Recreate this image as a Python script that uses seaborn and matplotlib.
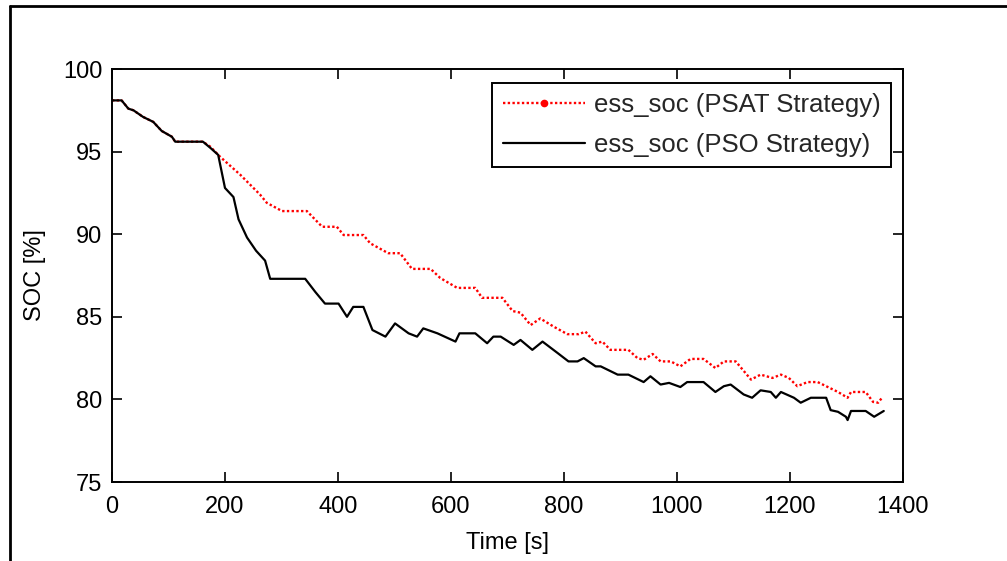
import numpy as np
import pandas as pd
import matplotlib
matplotlib.use("Agg")
import matplotlib.pyplot as plt
from matplotlib.lines import Line2D
import seaborn as sns

# ---- data ----
pso_time = [0, 17, 29, 38, 55, 73, 88, 106, 112, 161,
            175, 188, 200, 215, 224, 239, 255, 271, 280, 342,
            360, 377, 401, 416, 427, 445, 461, 484, 501, 525,
            540, 551, 576, 608, 615, 643, 664, 675, 688, 711,
            723, 744, 762, 789, 808, 824, 835, 856, 865, 895,
            914, 941, 953, 971, 986, 1006, 1018, 1047, 1068, 1083,
            1095, 1118, 1133, 1148, 1166, 1175, 1184, 1207, 1219, 1237,
            1264, 1272, 1285, 1299, 1302, 1308, 1334, 1349, 1366]
pso_soc = [98.1, 98.1, 97.6, 97.5, 97.1, 96.8, 96.25, 95.9, 95.6, 95.6,
           95.2, 94.8, 92.8, 92.25, 90.9, 89.8, 89.0, 88.4, 87.3, 87.3,
           86.5, 85.8, 85.8, 85.0, 85.6, 85.6, 84.2, 83.8, 84.6, 84.0,
           83.8, 84.3, 84.0, 83.5, 84.0, 84.0, 83.4, 83.8, 83.8, 83.3,
           83.6, 83.0, 83.5, 82.8, 82.3, 82.3, 82.5, 82.0, 82.0, 81.5,
           81.5, 81.05, 81.4, 80.9, 81.0, 80.75, 81.05, 81.05, 80.45, 80.8,
           80.9, 80.3, 80.1, 80.55, 80.45, 80.1, 80.45, 80.1, 79.8, 80.1,
           80.1, 79.35, 79.25, 78.95, 78.75, 79.3, 79.3, 78.95, 79.3]

psat_time = [0, 17, 29, 38, 55, 73, 88, 106, 112, 161,
             174, 191, 227, 262, 274, 301, 312, 345, 372, 398,
             410, 445, 457, 489, 510, 531, 564, 581, 611, 643,
             655, 691, 709, 723, 741, 758, 782, 806, 826, 838,
             856, 868, 882, 914, 930, 941, 957, 971, 989, 1006,
             1024, 1047, 1068, 1083, 1104, 1131, 1148, 1169, 1184, 1198,
             1213, 1231, 1249, 1267, 1285, 1302, 1308, 1334, 1347, 1356,
             1364]
psat_soc = [98.1, 98.1, 97.6, 97.5, 97.1, 96.8, 96.25, 95.9, 95.6, 95.6,
            95.3, 94.7, 93.6, 92.4, 91.9, 91.4, 91.4, 91.4, 90.45, 90.45,
            89.95, 89.95, 89.45, 88.85, 88.85, 87.9, 87.9, 87.35, 86.75, 86.75,
            86.15, 86.15, 85.35, 85.25, 84.5, 84.9, 84.4, 83.95, 83.95, 84.1,
            83.4, 83.5, 83.0, 83.0, 82.5, 82.4, 82.75, 82.3, 82.3, 82.0,
            82.45, 82.45, 81.9, 82.3, 82.3, 81.2, 81.5, 81.3, 81.5, 81.3,
            80.8, 81.05, 81.05, 80.75, 80.45, 80.1, 80.45, 80.45, 79.85, 79.8,
            80.15]

labels = ["ess_soc (PSAT Strategy)", "ess_soc (PSO Strategy)"]
x_ticks = [0, 200, 400, 600, 800, 1000, 1200, 1400]
y_ticks = [75, 80, 85, 90, 95, 100]

# ---- style ----
sns.set_style("ticks")
plt.rcParams["font.family"] = ["Liberation Sans", "DejaVu Sans"]

fig = plt.figure(figsize=(10.07, 5.61), dpi=100)
ax = fig.add_axes([0.1112, 0.1408, 0.7855, 0.7362])

df_psat = pd.DataFrame({"t": psat_time, "soc": psat_soc})
df_pso = pd.DataFrame({"t": pso_time, "soc": pso_soc})

sns.lineplot(data=df_psat, x="t", y="soc", ax=ax, color="#ff0000",
             linestyle=(0, (1, 1)), linewidth=1.7, sort=False, estimator=None)
sns.lineplot(data=df_pso, x="t", y="soc", ax=ax, color="black",
             linestyle="-", linewidth=1.6, sort=False, estimator=None)

ax.set_xlim(0, 1400)
ax.set_ylim(75, 100)
ax.set_xticks(x_ticks)
ax.set_yticks(y_ticks)
ax.set_xticklabels([str(v) for v in x_ticks])
ax.set_yticklabels([str(v) for v in y_ticks])
ax.tick_params(direction="in", top=True, right=True, length=7, width=1.2,
               labelsize=17, colors="black", pad=7)
ax.tick_params(axis="x", pad=10)
for s in ax.spines.values():
    s.set_linewidth(1.4)
    s.set_color("black")

ax.set_xlabel("Time [s]", fontsize=17, labelpad=10, color="black")
ax.set_ylabel("SOC [%]", fontsize=17, labelpad=12, color="black")

handles = [
    Line2D([], [], color="#ff0000", linestyle=(0, (1, 1)), linewidth=1.7,
           marker=".", markersize=9),
    Line2D([], [], color="black", linestyle="-", linewidth=1.6),
]
leg = ax.legend(handles, labels, loc="upper right",
                bbox_to_anchor=(0.9848, 0.9661), borderaxespad=0,
                fontsize=18.5, frameon=True, fancybox=False, framealpha=1,
                edgecolor="black", handlelength=3.2, handletextpad=0.35,
                labelspacing=0.6, borderpad=0.4, numpoints=1)
leg.get_frame().set_linewidth(1.4)

# outer frame lines (top and left)
fig.add_artist(Line2D([10 / 1007, 1.0], [1 - 6 / 561, 1 - 6 / 561],
                      transform=fig.transFigure, color="black", linewidth=2))
fig.add_artist(Line2D([10 / 1007, 10 / 1007], [0.0, 1 - 6 / 561],
                      transform=fig.transFigure, color="black", linewidth=2))

fig.savefig("out.png", dpi=100)
